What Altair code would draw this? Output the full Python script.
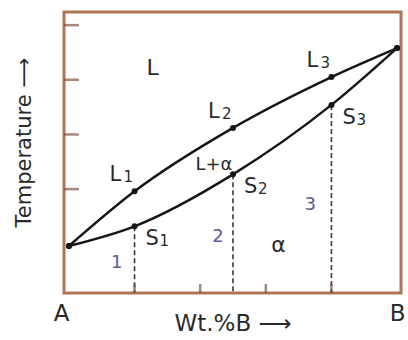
import altair as alt
import pandas as pd

# Binary isomorphous phase diagram of A-B (schematic, temperature in arbitrary units)
comp = [0, 20, 50, 80, 100]                 # wt.% B
liquidus_T = [296, 396, 512, 605, 658]
solidus_T = [296, 332, 427, 554, 658]

alloy_comp = [20, 50, 80]                   # alloys 1, 2, 3
alloy_names = ["1", "2", "3"]

x_ticks = [20, 40, 60, 80]
y_ticks = [400, 500, 600, 700]

region_labels = ["L", "L+α", "α"]
region_comp = [25.5, 44.2, 63.9]
region_T = [608, 435, 285]
region_size = [22, 18, 22]

alloy_label_comp = [14.6, 45.4, 73.5]
alloy_label_T = [255, 303, 362]

X_DOMAIN = [-1.5, 101.2]
Y_DOMAIN = [210, 724]
W, H = 337, 281

FONT = "DejaVu Sans"
INK = "#151515"
TEXT = "#2a2a2a"
FRAME = "#b07458"
TICK = "#7d5542"
NUM = "#5a5a9a"

xs = alt.Scale(domain=X_DOMAIN, nice=False, zero=False)
ys = alt.Scale(domain=Y_DOMAIN, nice=False, zero=False)

curves = pd.DataFrame({
    "comp": comp * 2,
    "T": liquidus_T + solidus_T,
    "curve": ["liquidus"] * len(comp) + ["solidus"] * len(comp),
})

liq_pts = pd.DataFrame({
    "comp": alloy_comp,
    "T": [liquidus_T[comp.index(c)] for c in alloy_comp],
    "letter": "L",
    "sub": alloy_names,
})
sol_pts = pd.DataFrame({
    "comp": alloy_comp,
    "T": [solidus_T[comp.index(c)] for c in alloy_comp],
    "letter": "S",
    "sub": alloy_names,
})

x_axis = alt.Axis(
    values=[0, 100],
    labelExpr="datum.value == 0 ? 'A' : 'B'",
    labelAlign={"condition": {"test": "datum.value == 0", "value": "right"}, "value": "center"},
    labelBaseline="alphabetic",
    labelPadding=27,
    labelFont=FONT,
    labelFontSize=23,
    labelColor=TEXT,
    labelFlush=False,
    labelOverlap=False,
    ticks=False,
    tickSize=0,
    domain=False,
    grid=False,
    title="Wt.%B ⟶",
    titleFont=FONT,
    titleFontSize=23,
    titleFontWeight="normal",
    titleColor=TEXT,
    titleBaseline="alphabetic",
    titleY=37,
)
y_axis = alt.Axis(
    labels=False,
    ticks=False,
    domain=False,
    grid=False,
    title="Temperature ⟶",
    titleFont=FONT,
    titleFontSize=21,
    titleFontWeight="normal",
    titleColor=TEXT,
    titleAngle=270,
    titleAlign="center",
    titleBaseline="middle",
    titleX=-40,
    titleY=130,
)

lines = alt.Chart(curves).mark_line(
    interpolate="monotone", color=INK, strokeWidth=2.4
).encode(
    x=alt.X("comp:Q", scale=xs, axis=x_axis),
    y=alt.Y("T:Q", scale=ys, axis=y_axis),
    detail="curve:N",
)

dots = alt.Chart(curves).mark_point(
    filled=True, size=36, color=INK, opacity=1
).encode(x=alt.X("comp:Q", scale=xs), y=alt.Y("T:Q", scale=ys))

drops = alt.Chart(sol_pts).mark_rule(
    color="#3a3a3a", strokeWidth=1.6, strokeDash=[5, 3]
).encode(
    x=alt.X("comp:Q", scale=xs),
    y=alt.Y("T:Q", scale=ys),
    y2=alt.datum(Y_DOMAIN[0]),
)

xtick_marks = alt.Chart(pd.DataFrame({"comp": x_ticks})).mark_tick(
    orient="vertical", size=9, thickness=2.5, yOffset=-4.5, color=TICK
).encode(x=alt.X("comp:Q", scale=xs), y=alt.value(H))

ytick_marks = alt.Chart(pd.DataFrame({"T": y_ticks})).mark_tick(
    orient="horizontal", size=15, thickness=2.5, xOffset=7.5, color=TICK
).encode(x=alt.value(0), y=alt.Y("T:Q", scale=ys))


def point_labels(df, dx, dy, sdx, sdy):
    base = alt.Chart(df).encode(x=alt.X("comp:Q", scale=xs), y=alt.Y("T:Q", scale=ys))
    letter = base.mark_text(
        align="left", baseline="alphabetic", dx=dx, dy=dy,
        font=FONT, fontSize=21, color=TEXT,
    ).encode(text="letter:N")
    sub = base.mark_text(
        align="left", baseline="alphabetic", dx=sdx, dy=sdy,
        font=FONT, fontSize=15, color=TEXT,
    ).encode(text="sub:N")
    return letter + sub


liq_labels = point_labels(liq_pts, -25, -10, -11, -9)
sol_labels = point_labels(sol_pts, 11, 19, 25, 20)

regions = alt.Chart(pd.DataFrame({
    "comp": region_comp, "T": region_T, "label": region_labels, "size": region_size,
})).mark_text(
    align="center", baseline="alphabetic", font=FONT, color=TEXT,
).encode(
    x=alt.X("comp:Q", scale=xs),
    y=alt.Y("T:Q", scale=ys),
    text="label:N",
    size=alt.Size("size:Q", scale=None, legend=None),
)

alloy_nums = alt.Chart(pd.DataFrame({
    "comp": alloy_label_comp, "T": alloy_label_T, "label": alloy_names,
})).mark_text(
    align="center", baseline="alphabetic", font=FONT, fontSize=18, color=NUM,
).encode(
    x=alt.X("comp:Q", scale=xs),
    y=alt.Y("T:Q", scale=ys),
    text="label:N",
)

chart = alt.layer(
    drops, lines, dots, xtick_marks, ytick_marks,
    liq_labels, sol_labels, regions, alloy_nums,
).properties(
    width=W,
    height=H,
    autosize=alt.AutoSizeParams(type="none"),
    padding={"left": 64, "top": 12, "right": 7, "bottom": 47},
    background="white",
).configure_view(
    stroke=FRAME, strokeWidth=3,
)

chart.save("out.html", embed_options={"renderer": "svg", "actions": False})
